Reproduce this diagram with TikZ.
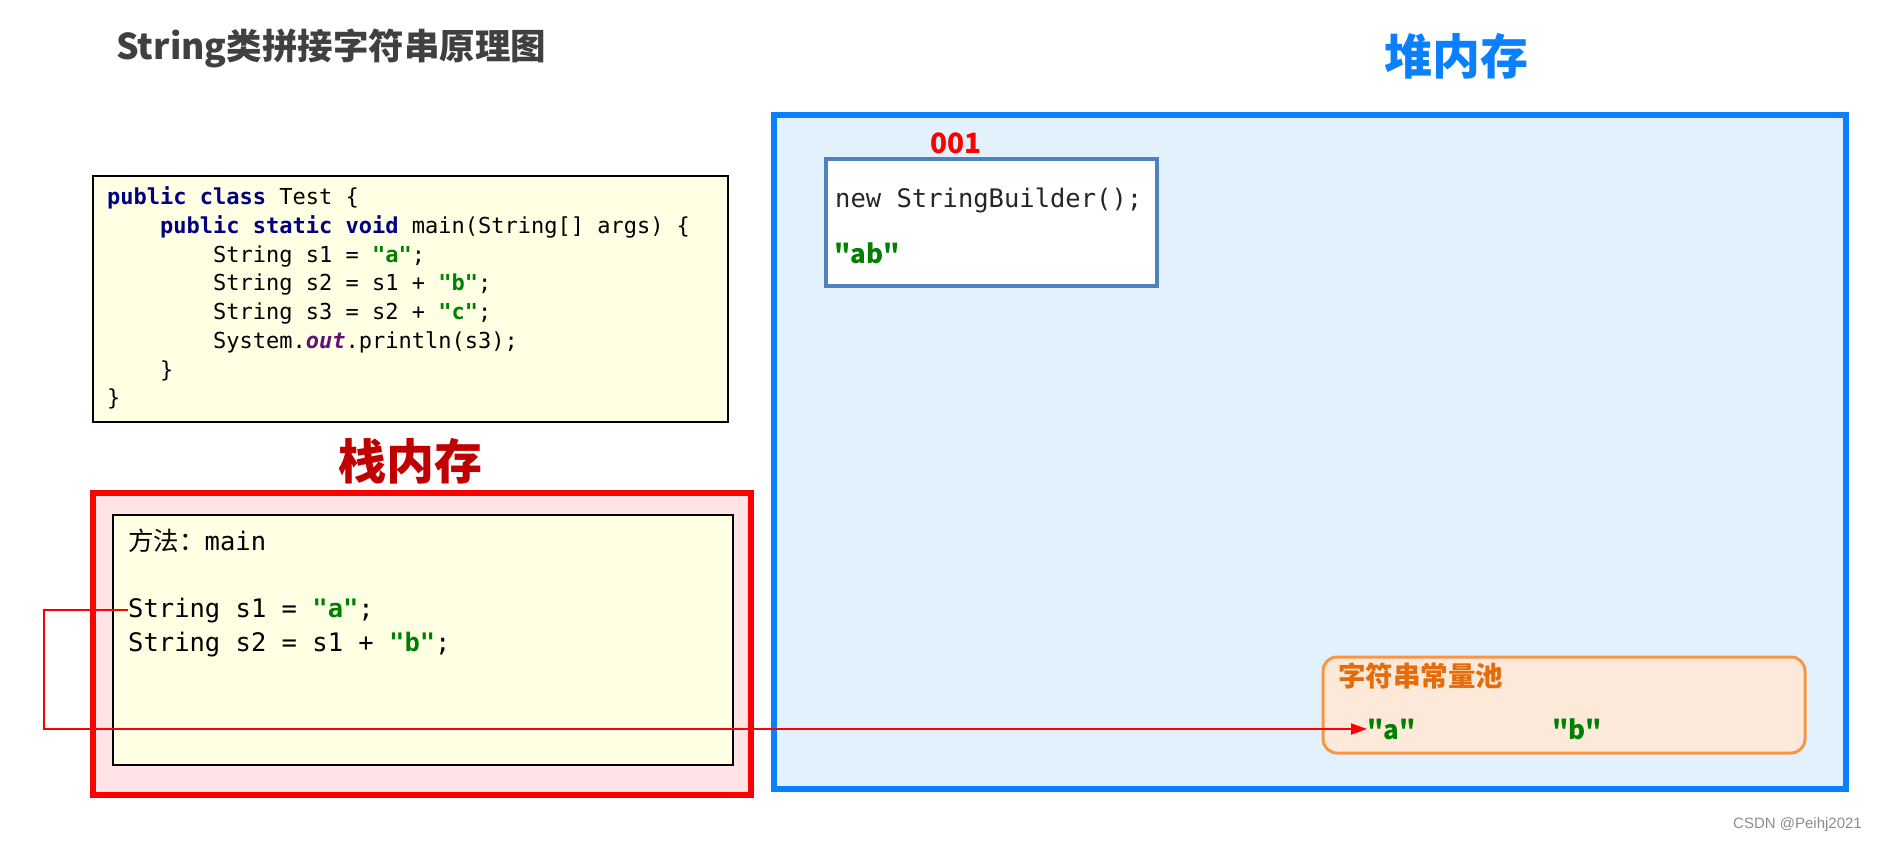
\documentclass[tikz,border=0pt]{standalone}
\usepackage{fontspec}
\usepackage{xcolor}
\setmainfont{Liberation Sans}
\setmonofont{DejaVu Sans Mono}
\newfontfamily\cjk{Noto Sans CJK SC}
\usetikzlibrary{arrows.meta}

\definecolor{kwblue}{HTML}{000080}
\definecolor{strgreen}{HTML}{008000}
\definecolor{fieldpurple}{HTML}{660E7A}
\definecolor{codefill}{HTML}{FFFFE3}
\definecolor{stackfill}{HTML}{FFE3E6}
\definecolor{stackred}{HTML}{FF0000}
\definecolor{stacklabel}{HTML}{C00000}
\definecolor{heapfill}{HTML}{E3F1FD}
\definecolor{heapblue}{HTML}{0A80FF}
\definecolor{objblue}{HTML}{4F81BD}
\definecolor{poolfill}{HTML}{FDE9D9}
\definecolor{poolline}{HTML}{F79646}
\definecolor{pooltitle}{HTML}{E46C0A}
\definecolor{titlegray}{HTML}{404040}

\newcommand{\jstr}[1]{\textcolor{strgreen}{\textbf{#1}}}
\newcommand{\jkw}[1]{\textcolor{kwblue}{\textbf{#1}}}

\tikzset{
  codeline/.style={anchor=base west, inner sep=0pt, font=\ttfamily\fontsize{22}{26}\selectfont},
  stackline/.style={anchor=base west, inner sep=0pt, font=\ttfamily\fontsize{25.5}{30}\selectfont},
  poolstr/.style={inner sep=0pt, font=\cjk\bfseries\fontsize{26}{30}\selectfont, text=strgreen},
}

\begin{document}
\begin{tikzpicture}[x=1pt, y=-1pt]
    \useasboundingbox (0,0) rectangle (1878,844);

    % Title
    \node[anchor=west, inner sep=0pt, text=titlegray, font=\cjk\bfseries\fontsize{35.5}{40}\selectfont] (title) at (116,48) {String类拼接字符串原理图};

    % Source code
    \draw[line width=1.5pt, fill=codefill] (93,176) rectangle (728,422);
    \node[codeline] (c1) at (107,204) {\jkw{public} \jkw{class} Test \{};
    \node[codeline] (c2) at (160,233) {\jkw{public} \jkw{static} \jkw{void} main(String[] args) \{};
    \node[codeline] (c3) at (213,262) {String s1 = \jstr{"a"};};
    \node[codeline] (c4) at (213,290) {String s2 = s1 + \jstr{"b"};};
    \node[codeline] (c5) at (213,319) {String s3 = s2 + \jstr{"c"};};
    \node[codeline] (c6) at (213,348) {System.\textcolor{fieldpurple}{\textbf{\textit{out}}}.println(s3);};
    \node[codeline] (c7) at (160,377) {\}};
    \node[codeline] (c8) at (107,405) {\}};

    % Stack
    \node[text=stacklabel, font=\cjk\bfseries\fontsize{48}{52}\selectfont] (stacklbl) at (410,461) {栈内存};
    \draw[line width=6pt, draw=stackred, fill=stackfill] (93,493) rectangle (751,795);
    \draw[line width=1.5pt, fill=codefill] (113,515) rectangle (733,765);
    \node[stackline] (frame) at (128,550) {{\cjk 方法：}main};
    \node[stackline] (s1) at (128,617) {String s1 = \jstr{"a"};};
    \node[stackline] (s2) at (128,651) {String s2 = s1 + \jstr{"b"};};

    % Heap
    \node[text=heapblue, font=\cjk\bfseries\fontsize{48}{52}\selectfont] (heaplbl) at (1456,56) {堆内存};
    \draw[line width=6pt, draw=heapblue, fill=heapfill] (774,115) rectangle (1846,789);

    % StringBuilder object
    \node[text=stackred, font=\cjk\bfseries\fontsize{28}{32}\selectfont] (addr) at (956,143) {001};
    \draw[line width=3.5pt, draw=objblue, fill=white] (826,159) rectangle (1157,286);
    \node[stackline, text=black!85] (sb) at (835,207) {new StringBuilder();};
    \node[poolstr, anchor=west] (ab) at (834,253) {"ab"};

    % String constant pool
    \draw[line width=3pt, draw=poolline, fill=poolfill, rounded corners=14pt] (1323,657) rectangle (1805,753);
    \node[anchor=west, inner sep=0pt, text=pooltitle, font=\cjk\bfseries\fontsize{27.5}{30}\selectfont] (pooltitle) at (1338,676) {字符串常量池};
    \node[poolstr, anchor=west] (poolA) at (1367,729) {"a"};
    \node[poolstr] (poolB) at (1577,729) {"b"};

    % Reference s1 -> "a"
    \coordinate (turn) at (44,670);
    \draw[line width=2pt, stackred, -{Triangle[length=16pt, width=11pt]}] (s1.west) -| (turn) |- (poolA.west);

    % Watermark
    \node[anchor=east, inner sep=0pt, text=black!45, font=\fontsize{15}{17}\selectfont] (mark) at (1862,825) {CSDN @Peihj2021};
\end{tikzpicture}
\end{document}
